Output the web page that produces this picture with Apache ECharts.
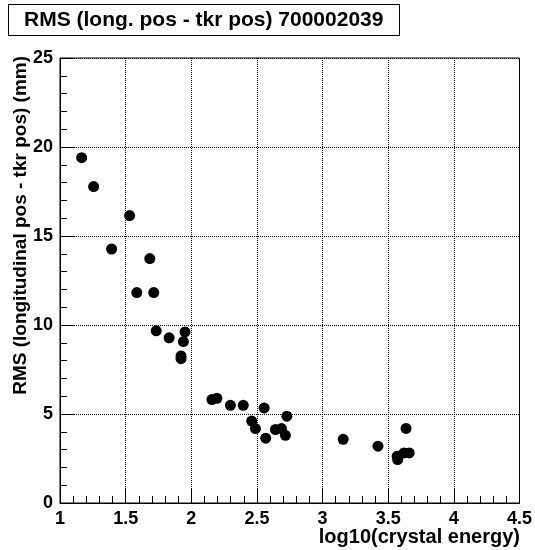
<!DOCTYPE html>
<html>
<head>
<meta charset="utf-8">
<script src="https://cdn.jsdelivr.net/npm/echarts@6/dist/echarts.min.js"></script>
<style>
  html, body { margin: 0; padding: 0; background: #fff; }
  #chart { width: 535px; height: 550px; }
</style>
</head>
<body>
<div id="chart"></div>
<script>
// log10(crystal energy)
const logEnergy = [
  1.165, 1.256, 1.530, 1.393, 1.684, 1.585, 1.714, 1.733, 1.831, 1.952, 1.940,
  1.922, 1.922, 2.157, 2.195, 2.298, 2.396, 2.555, 2.460, 2.489, 2.728, 2.641,
  2.687, 2.717, 2.567, 3.157, 3.422, 3.636, 3.568, 3.572, 3.620, 3.660
];
// RMS (longitudinal pos - tkr pos) (mm)
const rmsMm = [
  19.40, 17.78, 16.15, 14.27, 13.73, 11.82, 11.82, 9.67, 9.28, 9.61, 9.07,
  8.26, 8.11, 5.81, 5.88, 5.49, 5.49, 5.34, 4.60, 4.18, 4.88, 4.13,
  4.18, 3.80, 3.64, 3.58, 3.19, 4.19, 2.62, 2.44, 2.81, 2.81
];
const xTicks = [1, 1.5, 2, 2.5, 3, 3.5, 4, 4.5];
const yTicks = [0, 5, 10, 15, 20, 25];

const titleText = 'RMS (long. pos - tkr pos) 700002039';
const xTitle = 'log10(crystal energy)';
const yTitle = 'RMS (longitudinal pos - tkr pos) (mm)';

const font = '"Liberation Sans", Arial, Helvetica, sans-serif';

const chart = echarts.init(document.getElementById('chart'), null, { renderer: 'canvas' });

const points = logEnergy.map((x, i) => [x, rmsMm[i]]);

const axisCommon = {
  type: 'value',
  axisLine: { show: true, lineStyle: { color: '#000', width: 1 } },
  axisTick: { show: true, inside: true, length: 14, lineStyle: { color: '#000' } },
  minorTick: { show: true, splitNumber: 5, length: 7, lineStyle: { color: '#000' } },
  splitLine: { show: true, lineStyle: { color: '#000', type: 'dotted', width: 1 } },
  axisLabel: { color: '#000', fontFamily: font, fontWeight: 700, fontSize: 18, margin: 7 },
};

chart.setOption({
  backgroundColor: '#fff',
  animation: false,
  title: {
    text: titleText,
    left: 8,
    top: 4,
    padding: [5, 16, 5, 16],
    borderColor: '#000',
    borderWidth: 1,
    textStyle: { color: '#000', fontFamily: font, fontWeight: 'bold', fontSize: 21, lineHeight: 22 },
  },
  grid: {
    left: 60, right: 15, top: 58, bottom: 47,
    show: true, borderColor: '#000', borderWidth: 1,
  },
  xAxis: Object.assign({}, axisCommon, {
    min: xTicks[0],
    max: xTicks[xTicks.length - 1],
    interval: xTicks[1] - xTicks[0],
  }),
  yAxis: Object.assign({}, axisCommon, {
    min: yTicks[0],
    max: yTicks[yTicks.length - 1],
    interval: yTicks[1] - yTicks[0],
  }),
  graphic: [
    {
      type: 'text',
      right: 15,
      top: 527,
      style: { text: xTitle, fill: '#000', font: 'bold 20px ' + font },
    },
    {
      type: 'text',
      x: 21,
      y: 56,
      rotation: Math.PI / 2,
      style: {
        text: yTitle, fill: '#000', font: 'bold 19px ' + font,
        align: 'right', verticalAlign: 'middle',
      },
    },
  ],
  series: [
    {
      type: 'scatter',
      data: points,
      symbol: 'circle',
      symbolSize: 11,
      itemStyle: { color: '#000', opacity: 1 },
    },
  ],
});
</script>
</body>
</html>
